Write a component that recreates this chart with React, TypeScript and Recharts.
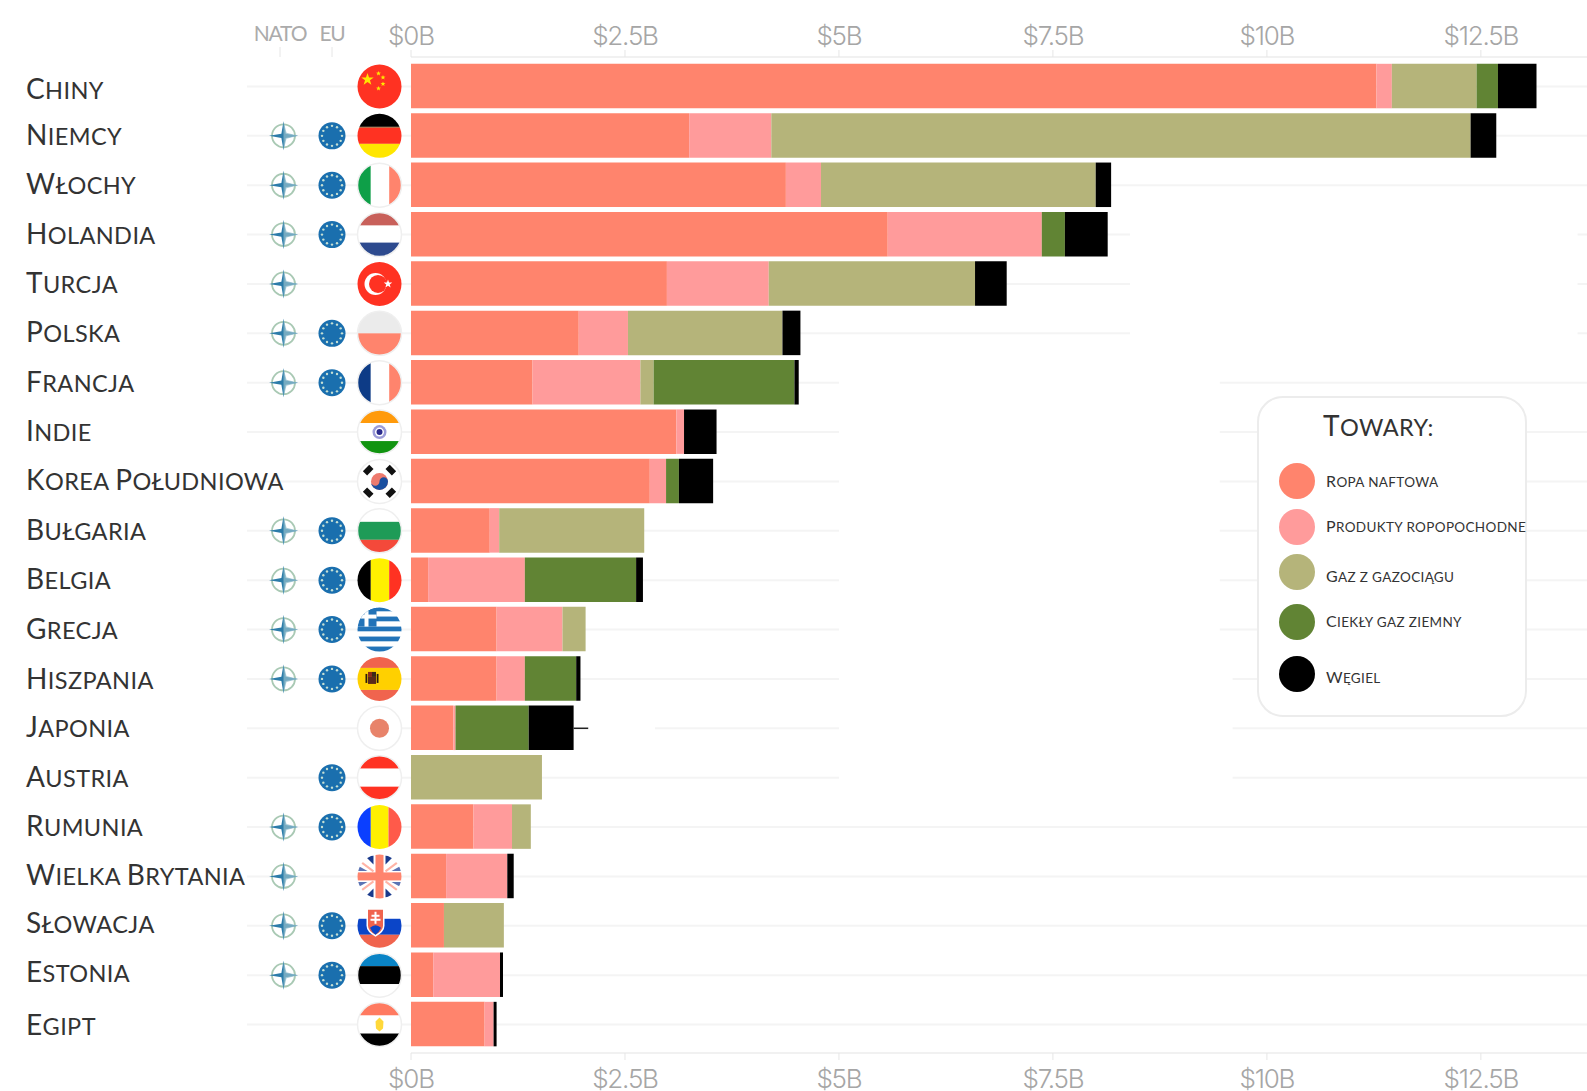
import {
  BarChart,
  Bar,
  XAxis,
  YAxis,
  CartesianGrid,
  Legend,
  ReferenceArea,
  ReferenceLine,
} from "recharts";

const countries = [
  "Chiny", "Niemcy", "Włochy", "Holandia", "Turcja", "Polska", "Francja",
  "Indie", "Korea Południowa", "Bułgaria", "Belgia", "Grecja", "Hiszpania",
  "Japonia", "Austria", "Rumunia", "Wielka Brytania", "Słowacja", "Estonia", "Egipt",
];

const crudeOil = [11.28, 3.25, 4.38, 5.57, 2.99, 1.96, 1.42, 3.1, 2.79, 0.92, 0.2, 1.0, 1.0, 0.495, 0, 0.73, 0.41, 0.385, 0.26, 0.86];
const oilProducts = [0.18, 0.96, 0.41, 1.8, 1.19, 0.575, 1.26, 0.09, 0.19, 0.11, 1.13, 0.77, 0.33, 0.025, 0, 0.45, 0.715, 0, 0.78, 0.105];
const pipelineGas = [0.99, 8.17, 3.21, 0, 2.41, 1.805, 0.155, 0, 0, 1.695, 0, 0.27, 0, 0, 1.53, 0.22, 0, 0.7, 0, 0];
const lng = [0.25, 0, 0, 0.27, 0, 0, 1.645, 0, 0.15, 0, 1.3, 0, 0.6, 0.855, 0, 0, 0, 0, 0, 0];
const coal = [0.45, 0.3, 0.18, 0.5, 0.37, 0.21, 0.05, 0.38, 0.4, 0, 0.08, 0, 0.05, 0.525, 0, 0, 0.075, 0, 0.035, 0.035];

const natoMembers = ["Niemcy", "Włochy", "Holandia", "Turcja", "Polska", "Francja", "Bułgaria", "Belgia", "Grecja", "Hiszpania", "Rumunia", "Wielka Brytania", "Słowacja", "Estonia"];
const euMembers = ["Niemcy", "Włochy", "Holandia", "Polska", "Francja", "Bułgaria", "Belgia", "Grecja", "Hiszpania", "Austria", "Rumunia", "Słowacja", "Estonia"];

const xTicks = [0, 2.5, 5, 7.5, 10, 12.5];

const data = countries.map((country, i) => ({
  country,
  crudeOil: crudeOil[i],
  oilProducts: oilProducts[i],
  pipelineGas: pipelineGas[i],
  lng: lng[i],
  coal: coal[i],
}));

const series = [
  { key: "crudeOil", name: "Ropa naftowa", color: "#FF846D" },
  { key: "oilProducts", name: "Produkty ropopochodne", color: "#FF9B9B" },
  { key: "pipelineGas", name: "Gaz z gazociągu", color: "#B5B47A" },
  { key: "lng", name: "Ciekły gaz ziemny", color: "#618434" },
  { key: "coal", name: "Węgiel", color: "#000000" },
];

const GRID = "#f4f4f4";
const SALMON = "#FF846D";
const RED = "#FF3222";

function starPoints(cx: number, cy: number, outer: number, inner: number, n = 5, rot = -Math.PI / 2) {
  const pts: string[] = [];
  for (let i = 0; i < n * 2; i++) {
    const r = i % 2 === 0 ? outer : inner;
    const a = rot + (i * Math.PI) / n;
    pts.push(`${cx + r * Math.cos(a)},${cy + r * Math.sin(a)}`);
  }
  return pts.join(" ");
}

const hStripes = (colors: string[], stops: number[]) =>
  colors.map((c, i) => <rect key={i} x={-23} y={stops[i]} width={46} height={stops[i + 1] - stops[i]} fill={c} />);

const vStripes = (colors: string[], stops: number[]) =>
  colors.map((c, i) => <rect key={i} x={stops[i]} y={-23} width={stops[i + 1] - stops[i]} height={46} fill={c} />);

const FLAGS: Record<string, () => any> = {
  Chiny: () => (
    <>
      <rect x={-23} y={-23} width={46} height={46} fill={RED} />
      <polygon points={starPoints(-12, -7, 6.5, 2.6)} fill="#FFE700" />
      <polygon points={starPoints(-1, -13, 2.6, 1.1)} fill="#FFE700" />
      <polygon points={starPoints(3.5, -9, 2.6, 1.1)} fill="#FFE700" />
      <polygon points={starPoints(3.5, -2.5, 2.6, 1.1)} fill="#FFE700" />
      <polygon points={starPoints(-1, 2, 2.6, 1.1)} fill="#FFE700" />
    </>
  ),
  Niemcy: () => hStripes(["#000", "#A8683A", RED, "#FFE600"], [-23, -9, -8, 8, 23]),
  Włochy: () => vStripes(["#0E9F48", "#fff", SALMON], [-23, -8.7, 9.7, 23]),
  Holandia: () => hStripes(["#C8605A", "#fff", "#2D4A8E"], [-23, -9, 8, 23]),
  Turcja: () => (
    <>
      <rect x={-23} y={-23} width={46} height={46} fill={RED} />
      <circle cx={-4} cy={0} r={11} fill="#fff" />
      <circle cx={-1.5} cy={0} r={9} fill={RED} />
      <polygon points={starPoints(8.5, 0, 4.5, 1.8)} fill="#fff" />
    </>
  ),
  Polska: () => hStripes(["#EBEBEB", SALMON], [-23, 0, 23]),
  Francja: () => vStripes(["#0D3B86", "#fff", SALMON], [-23, -8.7, 9.7, 23]),
  Indie: () => (
    <>
      {hStripes(["#FF9A0B", "#fff", "#119410"], [-23, -9, 9, 23])}
      <circle r={7} fill="#9C9CD8" />
      <circle r={4.5} fill="#fff" />
      <circle r={3} fill="#2B2B8E" />
    </>
  ),
  "Korea Południowa": () => (
    <>
      <rect x={-23} y={-23} width={46} height={46} fill="#fff" />
      <circle r={8.5} fill="#EE7A6E" />
      <path d="M-8.5 0 A8.5 8.5 0 0 0 8.5 0 A4.25 4.25 0 0 0 0 0 A4.25 4.25 0 0 1 -8.5 0Z" fill="#1B4FA0" />
      {[45, 135, 225, 315].map((a) => (
        <rect key={a} x={-4.5} y={-19} width={9} height={6} fill="#111" transform={`rotate(${a})`} />
      ))}
    </>
  ),
  Bułgaria: () => hStripes(["#fff", "#1E9B57", "#F4493A"], [-23, -9, 9, 23]),
  Belgia: () => vStripes(["#000", "#FFF000", RED], [-23, -8.7, 9.7, 23]),
  Grecja: () => (
    <>
      {hStripes(
        ["#2273B8", "#fff", "#2273B8", "#fff", "#2273B8", "#fff", "#2273B8", "#fff", "#2273B8"],
        [-23, -18, -13, -8, -3, 2, 7, 12, 17, 23],
      )}
      <rect x={-23} y={-23} width={20} height={20} fill="#2273B8" />
      <rect x={-15} y={-23} width={4} height={20} fill="#fff" />
      <rect x={-23} y={-15} width={20} height={4} fill="#fff" />
    </>
  ),
  Hiszpania: () => (
    <>
      {hStripes(["#F0644E", "#FFD000", "#F0644E"], [-23, -11, 11, 23])}
      <rect x={-11.5} y={-7} width={4} height={5} fill="#8A2A1A" />
      <rect x={-7.5} y={-7} width={4} height={5} fill="#3A2A18" />
      <rect x={-11.5} y={-2} width={8} height={7} fill="#5A2A1A" />
      <rect x={-14} y={-5} width={1.8} height={9} fill="#2A1A10" />
      <rect x={-2.8} y={-5} width={1.8} height={9} fill="#2A1A10" />
    </>
  ),
  Japonia: () => (
    <>
      <rect x={-23} y={-23} width={46} height={46} fill="#fff" />
      <circle r={9.5} fill="#E8836A" />
    </>
  ),
  Austria: () => hStripes([RED, "#fff", RED], [-23, -9, 9, 23]),
  Rumunia: () => vStripes(["#0B3FFF", "#FFF000", "#FF5A4A"], [-23, -8.7, 9, 23]),
  "Wielka Brytania": () => (
    <>
      <rect x={-23} y={-23} width={46} height={46} fill="#fff" />
      <polygon points="-6,-21 -15,-21 -6,-12" fill="#1A3A8C" />
      <polygon points="6,-21 15,-21 6,-12" fill="#1A3A8C" />
      <polygon points="-6,21 -15,21 -6,12" fill="#1A3A8C" />
      <polygon points="6,21 15,21 6,12" fill="#1A3A8C" />
      <polygon points="-22,-11 -12,-5.5 -22,-5.5" fill="#5C74B4" />
      <polygon points="22,-11 12,-5.5 22,-5.5" fill="#5C74B4" />
      <polygon points="-22,11 -12,5.5 -22,5.5" fill="#5C74B4" />
      <polygon points="22,11 12,5.5 22,5.5" fill="#5C74B4" />
      <path d="M-18 -14 L-6 -5 M18 -14 L6 -5 M-18 14 L-6 5 M18 14 L6 5" stroke="#FFB4A6" strokeWidth={2} />
      <rect x={-4} y={-23} width={8} height={46} fill={SALMON} />
      <rect x={-23} y={-4} width={46} height={8} fill={SALMON} />
    </>
  ),
  Słowacja: () => (
    <>
      {hStripes(["#fff", "#0B45C8", "#F0644E"], [-23, -7, 9, 23])}
      <path d="M-13 -18 H5 V0 Q5 6 -4 11 Q-13 6 -13 0Z" fill="#fff" />
      <path d="M-11.5 -16 H3.5 V0 Q3.5 5 -4 9 Q-11.5 5 -11.5 0Z" fill="#F0644E" />
      <rect x={-5} y={-14} width={2} height={12} fill="#fff" />
      <rect x={-8} y={-11} width={8} height={2} fill="#fff" />
      <rect x={-9} y={-7} width={10} height={2} fill="#fff" />
      <path d="M-9.5 2 Q-4 -3 1.5 2 Q0 6 -4 9 Q-8 6 -9.5 2Z" fill="#0B45C8" />
    </>
  ),
  Estonia: () => hStripes(["#0A84C6", "#000", "#fff"], [-23, -9, 9, 23]),
  Egipt: () => (
    <>
      {hStripes(["#FF7A60", "#fff", "#000"], [-23, -9, 9, 23])}
      <path d="M0 -7 L4 -3 L3.5 4 L0 7 L-3.5 4 L-4 -3Z" fill="#FFD83A" />
    </>
  ),
};

const WHITE_FLAGS = ["Włochy", "Holandia", "Polska", "Francja", "Indie", "Korea Południowa", "Bułgaria", "Japonia", "Austria", "Estonia", "Egipt"];

// split "Korea Południowa" into capitals and lowercase runs, the latter shown as smaller capitals
const capRuns = (text: string) => text.match(/\p{Lu}+|[^\p{Lu}]+/gu) ?? [text];
const isCap = (run: string) => run !== run.toLowerCase();

function NatoIcon({ x, y }: { x: number; y: number }) {
  return (
    <g transform={`translate(${x},${y})`}>
      <circle r={11.5} fill="#fff" stroke="#A9C9B4" strokeWidth={1.8} />
      <polygon points={starPoints(0, 0, 14.5, 3, 4)} fill="#2C7CA9" />
      <polygon points="0,-14.5 3,-3 14.5,0 3,3 0,14.5 0,0" fill="#8CB9C9" opacity={0.75} />
    </g>
  );
}

function EuIcon({ x, y }: { x: number; y: number }) {
  const dots = Array.from({ length: 12 }, (_, i) => (i * Math.PI) / 6);
  return (
    <g transform={`translate(${x},${y})`}>
      <circle r={13.5} fill="#1A6FAE" />
      {dots.map((a, i) => (
        <circle key={i} cx={10 * Math.cos(a)} cy={10 * Math.sin(a)} r={1.2} fill="#C5DFD4" />
      ))}
    </g>
  );
}

const labelNudge: Record<string, number> = { Chiny: 4, Hiszpania: 1, Słowacja: -2, Estonia: -2, Egipt: 1 };

// label, gridline stub, membership icons and flag for one row
function RowTick({ y, payload }: any) {
  const name: string = payload.value;
  const clipId = `flag-clip-${countries.indexOf(name)}`;
  return (
    <g>
      <line x1={247} x2={411} y1={y} y2={y} stroke={GRID} strokeWidth={2} />
      <text x={26} y={y + 9 + (labelNudge[name] ?? 0)} fontFamily="Lato" fill="#333" letterSpacing={0.4} fontSize={28}>
        {capRuns(name).map((run, i) => (
          <tspan key={i} fontSize={isCap(run) ? 28 : 23.5} style={isCap(run) ? undefined : { textTransform: "uppercase" }}>
            {run}
          </tspan>
        ))}
      </text>
      {natoMembers.includes(name) && <NatoIcon x={283.5} y={y} />}
      {euMembers.includes(name) && <EuIcon x={332} y={y} />}
      <g transform={`translate(379.5,${y})`}>
        <clipPath id={clipId}>
          <circle r={22} />
        </clipPath>
        <g clipPath={`url(#${clipId})`}>{FLAGS[name]()}</g>
        {WHITE_FLAGS.includes(name) && <circle r={22} fill="none" stroke="#efefef" strokeWidth={1.5} />}
      </g>
    </g>
  );
}

function CapsText({ text, size, small, spacing }: { text: string; size: number; small: number; spacing: number }) {
  return (
    <span style={{ letterSpacing: spacing, whiteSpace: "nowrap" }}>
      {capRuns(text).map((run, i) => (
        <span key={i} style={isCap(run) ? { fontSize: size } : { fontSize: small, textTransform: "uppercase" }}>
          {run}
        </span>
      ))}
    </span>
  );
}

const legendRows = [
  { swatch: 85, text: 85 },
  { swatch: 131, text: 130 },
  { swatch: 176, text: 180 },
  { swatch: 226, text: 225 },
  { swatch: 278, text: 281 },
];

function TowaryLegend({ payload }: any) {
  return (
    <div
      style={{
        position: "relative",
        width: 270,
        height: 321,
        boxSizing: "border-box",
        background: "#fff",
        border: "2px solid #ececec",
        borderRadius: 26,
        fontFamily: "Lato",
        color: "#333",
      }}
    >
      <div style={{ position: "absolute", left: 64, top: 10, lineHeight: "34px" }}>
        <CapsText text="Towary:" size={28} small={23.5} spacing={0.4} />
      </div>
      {(payload ?? []).map((entry: any, i: number) => (
        <div key={entry.value}>
          <div
            style={{
              position: "absolute",
              left: 20,
              top: legendRows[i].swatch - 20,
              width: 36,
              height: 36,
              borderRadius: "50%",
              background: entry.color,
            }}
          />
          <div style={{ position: "absolute", left: 67, top: legendRows[i].text - 12, lineHeight: "20px" }}>
            <CapsText text={entry.value} size={16} small={13.5} spacing={0.35} />
          </div>
        </div>
      ))}
    </div>
  );
}

const axisTick = { fontFamily: "Inter", fontWeight: 300, fontSize: 26, fill: "#a6a6a6", letterSpacing: -1.2 };

export default function App() {
  return (
    <div style={{ position: "absolute", left: 0, top: 0, width: 1587, height: 1091, background: "#fff" }}>
      <BarChart
        width={1587}
        height={1091}
        data={data}
        layout="vertical"
        barSize={44.5}
        margin={{ top: 27, right: 0, left: 0, bottom: 8 }}
      >
        <CartesianGrid vertical={false} stroke={GRID} strokeWidth={2} />
        <XAxis
          type="number"
          orientation="top"
          height={30}
          domain={[0, 13.74]}
          ticks={xTicks}
          interval={0}
          tickFormatter={(v) => `$${v}B`}
          tick={axisTick}
          tickSize={7}
          tickMargin={5}
          axisLine={{ stroke: "#eeeeee" }}
          tickLine={{ stroke: "#e6e6e6" }}
          allowDataOverflow
        />
        <XAxis
          xAxisId="bottom"
          type="number"
          orientation="bottom"
          height={30}
          domain={[0, 13.74]}
          ticks={xTicks}
          interval={0}
          tickFormatter={(v) => `$${v}B`}
          tick={axisTick}
          tickSize={7}
          tickMargin={10}
          axisLine={{ stroke: "#eeeeee" }}
          tickLine={{ stroke: "#e6e6e6" }}
          allowDataOverflow
        />
        <YAxis
          type="category"
          dataKey="country"
          width={411}
          interval={0}
          axisLine={false}
          tickLine={false}
          tick={RowTick}
          padding={{ top: 4.8, bottom: 3.8 }}
        />
        <ReferenceArea x1={8.4} x2={13.63} y1="Holandia" y2="Polska" fill="#fff" fillOpacity={1} stroke="none" />
        <ReferenceArea x1={5} x2={9.45} y1="Francja" y2="Grecja" fill="#fff" fillOpacity={1} stroke="none" />
        <ReferenceArea x1={5} x2={9.6} y1="Hiszpania" y2="Austria" fill="#fff" fillOpacity={1} stroke="none" />
        <ReferenceArea x1={2.08} x2={2.85} y1="Japonia" y2="Japonia" fill="#fff" fillOpacity={1} stroke="none" />
        {series.map((s) => (
          <Bar key={s.key} dataKey={s.key} name={s.name} stackId="imports" fill={s.color} isAnimationActive={false} />
        ))}
        <ReferenceLine
          segment={[
            { x: 1.9, y: "Japonia" },
            { x: 2.07, y: "Japonia" },
          ]}
          stroke="#222"
          strokeWidth={1.5}
        />
        <Legend
          layout="horizontal"
          verticalAlign="middle"
          align="center"
          itemSorter={null}
          content={TowaryLegend}
          wrapperStyle={{ position: "absolute", left: 1257, top: 396, width: 270, height: 321 }}
        />
        <text x={280} y={41} textAnchor="middle" fontFamily="Lato" fontSize={21} letterSpacing={-1.2} fill="#ababab">
          NATO
        </text>
        <text x={332} y={41} textAnchor="middle" fontFamily="Lato" fontSize={21} letterSpacing={-1.2} fill="#ababab">
          EU
        </text>
        <line x1={280} x2={280} y1={47} y2={57} stroke="#e6e6e6" />
        <line x1={332} x2={332} y1={47} y2={57} stroke="#e6e6e6" />
      </BarChart>
    </div>
  );
}
